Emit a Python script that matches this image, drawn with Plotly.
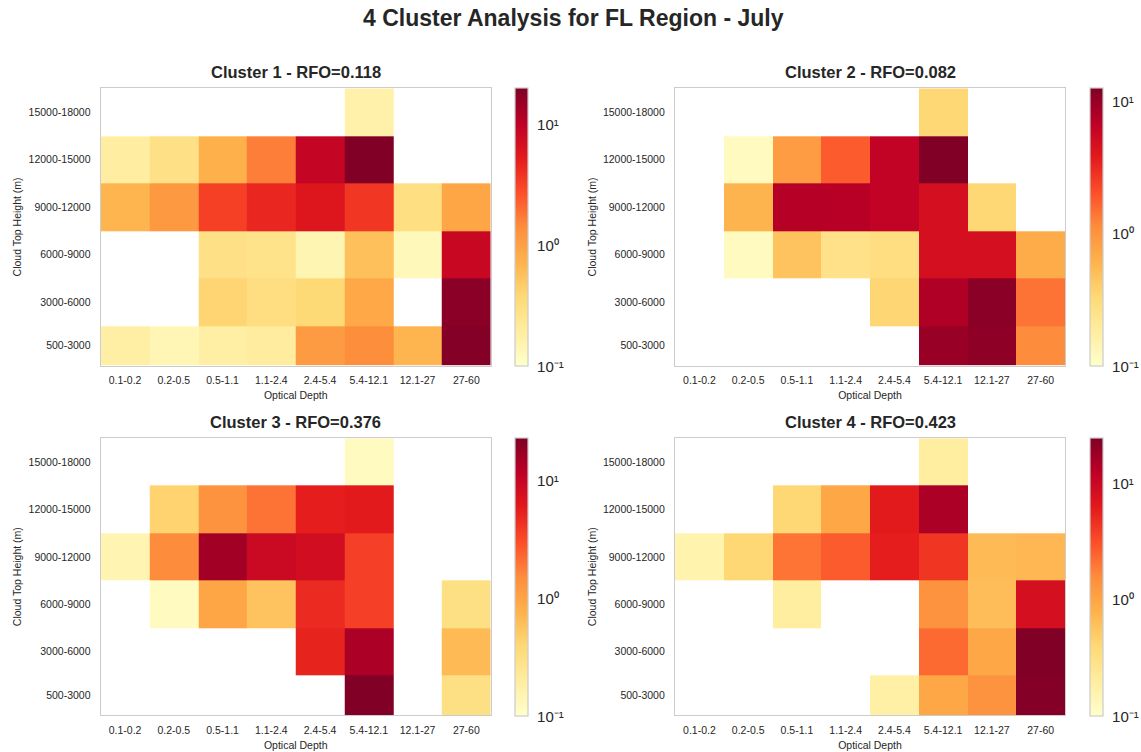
import math
import plotly.graph_objects as go

# Histogram bins
optical_depth_labels = ["0.1-0.2", "0.2-0.5", "0.5-1.1", "1.1-2.4", "2.4-5.4", "5.4-12.1", "12.1-27", "27-60"]
height_labels = ["500-3000", "3000-6000", "6000-9000", "9000-12000", "12000-15000", "15000-18000"]
height_edges = [500, 3000, 6000, 9000, 12000, 15000, 18000]

cluster_names = ["Cluster 1", "Cluster 2", "Cluster 3", "Cluster 4"]
cluster_rfo = [0.118, 0.082, 0.376, 0.423]

N = None
# Frequency (%) per cell; rows go from the lowest height bin upward
cluster1 = [
    [0.18, 0.14, 0.18, 0.20, 1.10, 1.40, 0.70, 19.0],
    [N,    N,    0.40, 0.32, 0.37, 0.88, N,    18.0],
    [N,    N,    0.29, 0.27, 0.145, 0.58, 0.13, 8.6],
    [0.70, 1.15, 3.30, 4.60, 5.90, 3.70, 0.31, 0.93],
    [0.19, 0.29, 0.75, 1.66, 9.10, 20.1, N,    N],
    [N,    N,    N,    N,    N,    0.17, N,    N],
]
cluster2 = [
    [N,    N,    N,    N,    N,    10.0, 11.0, 1.12],
    [N,    N,    N,    N,    0.35, 7.8,  11.5, 1.44],
    [N,    0.12, 0.47, 0.26, 0.29, 4.8,  4.8,  0.69],
    [N,    0.60, 7.4,  7.3,  6.4,  4.8,  0.34, N],
    [N,    0.12, 0.88, 1.83, 6.4,  12.7, N,    N],
    [N,    N,    N,    N,    N,    0.34, N,    N],
]
cluster3 = [
    [N,    N,    N,    N,    N,    22.8, N,    0.31],
    [N,    N,    N,    N,    5.2,  14.0, N,    0.67],
    [N,    0.12, 0.98, 0.57, 4.7,  3.6,  N,    0.31],
    [0.15, 1.5,  15.5, 9.1,  8.1,  3.6,  N,    N],
    [N,    0.43, 1.35, 2.0,  5.6,  5.9,  N,    N],
    [N,    N,    N,    N,    N,    0.12, N,    N],
]
cluster4 = [
    [N,    N,    N,    N,    0.18, 0.96, 1.40, 23.5],
    [N,    N,    N,    N,    N,    2.3,  0.96, 24.6],
    [N,    N,    0.20, N,    N,    1.4,  0.65, 8.2],
    [0.16, 0.40, 2.06, 2.7,  5.9,  4.3,  0.69, 0.72],
    [N,    N,    0.40, 0.96, 6.2,  14.8, N,    N],
    [N,    N,    N,    N,    N,    0.20, N,    N],
]
cluster_data = [cluster1, cluster2, cluster3, cluster4]

colorbar_ticks = [-1, 0, 1]
colorbar_ticktext = ["10⁻¹", "10⁰", "10¹"]

# matplotlib YlOrRd
ylorrd = ["#ffffcc", "#ffeda0", "#fed976", "#feb24c", "#fd8d3c",
          "#fc4e2a", "#e31a1c", "#bd0026", "#800026"]
colorscale = [[i / (len(ylorrd) - 1), c] for i, c in enumerate(ylorrd)]

W, H = 1141, 752
FONT = "Liberation Sans, Arial, sans-serif"
TXT = "#262626"

# panel boxes in pixels: (left, right, top, bottom)
panels = [
    (100.7, 490.7, 88.3, 365.5),
    (675.0, 1065.0, 88.3, 365.5),
    (100.7, 490.7, 438.3, 715.0),
    (675.0, 1065.0, 438.3, 715.0),
]
cbar_left = [515.0, 1090.0, 515.0, 1090.0]

fig = go.Figure()
layout = dict(
    width=W, height=H,
    margin=dict(l=0, r=0, t=0, b=0),
    paper_bgcolor="white", plot_bgcolor="white",
    font=dict(family=FONT, color=TXT),
    showlegend=False,
    annotations=[],
)

centers = [(height_edges[i] + height_edges[i + 1]) / 2 for i in range(len(height_labels))]

for k, data in enumerate(cluster_data):
    left, right, top, bottom = panels[k]
    vals = [v for row in data for v in row if v is not None]
    vmax = max(vals)
    zlog = [[(math.log10(v) if v is not None else None) for v in row] for row in data]
    xa = "x" if k == 0 else f"x{k + 1}"
    ya = "y" if k == 0 else f"y{k + 1}"
    fig.add_trace(go.Heatmap(
        z=zlog,
        x=list(range(len(optical_depth_labels))),
        y=height_edges,
        xaxis=xa, yaxis=ya,
        colorscale=colorscale,
        zmin=-1, zmax=math.log10(vmax),
        hoverongaps=False,
        colorbar=dict(
            x=cbar_left[k] / W, xanchor="left",
            y=1 - top / H, yanchor="top",
            len=(bottom - top + 1) / H, lenmode="fraction",
            thickness=13, thicknessmode="pixels",
            xpad=0, ypad=0,
            outlinecolor="#cccccc", outlinewidth=1.2,
            tickvals=colorbar_ticks,
            ticktext=colorbar_ticktext,
            ticks="outside", ticklen=6, tickcolor="rgba(0,0,0,0)",
            tickfont=dict(size=15, color=TXT, family=FONT),
        ),
    ))
    xkey = "xaxis" if k == 0 else f"xaxis{k + 1}"
    ykey = "yaxis" if k == 0 else f"yaxis{k + 1}"
    layout[xkey] = dict(
        domain=[left / W, right / W], anchor=ya,
        range=[-0.5, len(optical_depth_labels) - 0.5],
        tickvals=list(range(len(optical_depth_labels))), ticktext=optical_depth_labels,
        ticks="outside", ticklen=5, tickcolor="rgba(0,0,0,0)",
        tickfont=dict(size=10.5, color=TXT),
        showgrid=False, zeroline=False,
        showline=True, mirror=True, linecolor="#cccccc", linewidth=1.2,
        title=dict(text="Optical Depth", font=dict(size=10.5, color=TXT), standoff=6),
    )
    layout[ykey] = dict(
        domain=[1 - bottom / H, 1 - top / H], anchor=xa,
        range=[height_edges[0], height_edges[-1]],
        tickvals=centers, ticktext=height_labels,
        ticks="outside", ticklen=7, tickcolor="rgba(0,0,0,0)",
        tickfont=dict(size=10.5, color=TXT),
        showgrid=False, zeroline=False,
        showline=True, mirror=True, linecolor="#cccccc", linewidth=1.2,
        title=dict(text="Cloud Top Height (m)", font=dict(size=10.5, color=TXT), standoff=4),
    )
    layout["annotations"].append(dict(
        text=f"{cluster_names[k]} - RFO={cluster_rfo[k]:.3f}",
        x=(left + right) / 2 / W, y=1 - (top - 5) / H,
        xref="paper", yref="paper", xanchor="center", yanchor="bottom",
        showarrow=False, font=dict(size=16.5, color=TXT, family=FONT, weight="bold"),
    ))

layout["annotations"].append(dict(
    text="4 Cluster Analysis for FL Region - July",
    x=573 / W, y=1 - 18 / H, xref="paper", yref="paper",
    xanchor="center", yanchor="middle", showarrow=False,
    font=dict(size=23, color=TXT, family=FONT, weight="bold"),
))

fig.update_layout(**layout)
fig.write_html("out.html")
